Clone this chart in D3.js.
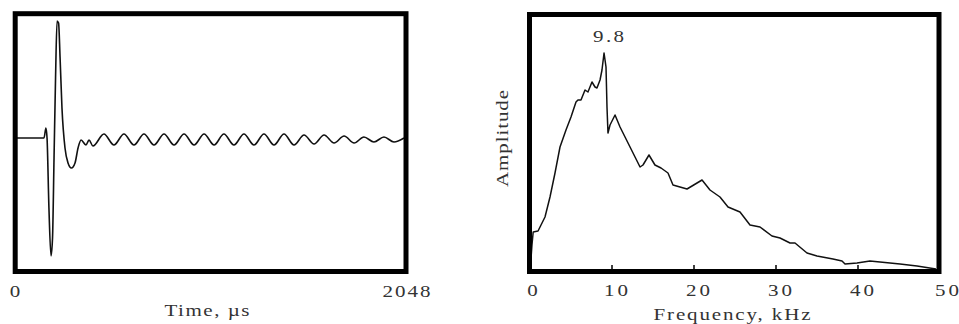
<!DOCTYPE html>
<html>
<head>
<meta charset="utf-8">
<script src="https://cdn.jsdelivr.net/npm/d3@7"></script>
<style>
  html, body { margin: 0; padding: 0; background: #fff; }
  svg { display: block; }
  text { font-family: "Liberation Serif", "Times New Roman", Times, serif; fill: #333; }
</style>
</head>
<body>
<svg id="chart" width="959" height="324"></svg>
<script>
// ---- Left panel: time waveform (arbitrary amplitude units) ----
const timeUs = [0, 143, 153, 159, 169, 180, 188, 196, 204, 212, 220, 228, 238, 254, 270, 288, 307, 323, 339, 365, 381, 402,
  460, 513, 566, 619, 672, 725, 778, 831, 884, 937, 990, 1043, 1095, 1148, 1201, 1254, 1307, 1360, 1413, 1466,
  1519, 1572, 1625, 1678, 1731, 1784, 1836, 1889, 1942, 1995, 2048];
const waveAmp = [0, 0, 10, 0, -70, -118, -100, -20, 60, 117, 115, 80, 30, -10, -25, -30, -25, -10, -2, -7, -2, -8,
  4, -7, 4, -7, 4, -7, 4, -7, 4, -7, 4, -7, 4, -7, 4, -7, 4, -7, 4, -7,
  3, -6, 3, -5, 2, -5, 1, -4, 1, -4, 0];
const timeTicks = [0, 2048];
const timeTitle = "Time, \u00b5s";

// ---- Right panel: amplitude spectrum ----
const freqKHz = [0.1, 0.3, 0.45, 1.04, 1.89, 2.5, 3.11, 3.72, 4.45, 5.06, 5.67, 5.91, 6.28, 6.77, 7.13, 7.62, 7.99, 8.23,
  8.6, 8.84, 9.09, 9.33, 9.45, 9.57, 9.82, 10.43, 11.04, 11.65, 12.26, 12.87, 13.48, 13.84, 14.57, 15.3, 16.04, 16.89,
  17.5, 18.35, 19.21, 21.04, 22.01, 23.23, 24.21, 25.67, 26.89, 28.11, 29.57, 30.55, 31.77, 32.38, 33.84, 35.06,
  37.01, 38.11, 38.48, 39.94, 41.52, 42.74, 45.18, 47.26, 49.57];
const specAmp = [2, 25, 38, 39, 53, 73, 97, 123, 140, 153, 168, 170, 170, 180, 178, 188, 183, 182,
  190, 200, 217, 203, 163, 137, 145, 155, 143, 133, 123, 113, 103, 105, 115, 105, 102, 97,
  85, 83, 81, 90, 80, 73, 63, 58, 45, 43, 34, 32, 27, 27, 17, 14,
  11, 9, 6, 7, 9, 8, 6, 4, 1];
const freqTicks = [0, 10, 20, 30, 40, 50];
const freqTitle = "Frequency, kHz";
const ampTitle = "Amplitude";
const peakLabel = "9.8";

const SX = 1.2;      // horizontal glyph widening of the scanned serif type
const FS = 17.5;
const svg = d3.select("#chart");

function label(x, y, str, width, rotate) {
  const g = svg.append("g")
    .attr("transform", `translate(${x},${y})` + (rotate ? " rotate(-90)" : "") + ` scale(${SX},1)`);
  g.append("text")
    .attr("text-anchor", "middle")
    .attr("font-size", FS)
    .attr("textLength", width / SX).attr("lengthAdjust", "spacing")
    .text(str);
}

function styleTicks(sel, yPos, dxFn) {
  sel.selectAll("text")
    .attr("y", yPos).attr("dy", 0)
    .attr("font-size", FS)
    .attr("font-family", "Liberation Serif, Times New Roman, serif")
    .attr("fill", "#333")
    .attr("x", (d, i) => dxFn(d, i) / SX)
    .attr("transform", `scale(${SX},1)`)
    .each(function() {
      const n = this.textContent.length;
      if (n > 1) d3.select(this).attr("textLength", n * 12 / SX).attr("lengthAdjust", "spacing");
    });
}

// ---------- Left panel ----------
const xL = d3.scaleLinear().domain([0, 2048]).range([17, 404]);
const yL = d3.scaleLinear().domain([-134, 122]).range([272, 16]);

svg.append("path")
  .datum(timeUs.map((t, i) => [t, waveAmp[i]]))
  .attr("fill", "none")
  .attr("stroke", "#111")
  .attr("stroke-width", 1.6)
  .attr("stroke-linejoin", "round")
  .attr("d", d3.line().x(d => xL(d[0])).y(d => yL(d[1])).curve(d3.curveMonotoneX));

svg.append("rect")
  .attr("x", 15.2).attr("y", 13.7).attr("width", 390.8).attr("height", 257.8)
  .attr("fill", "none").attr("stroke", "#000").attr("stroke-width", 5);

const axL = svg.append("g").attr("transform", "translate(0,271.5)")
  .call(d3.axisBottom(xL).tickValues(timeTicks).tickSize(0).tickFormat(d3.format("d")));
axL.select(".domain").remove();
styleTicks(axL, 25.5, (d, i) => i === 0 ? -2.5 : 2);

label(207, 315.5, timeTitle, 85, false);

// ---------- Right panel ----------
const xR = d3.scaleLinear().domain([0, 50]).range([529.5, 939.5]);
const yR = d3.scaleLinear().domain([0, 254]).range([270, 16]);

svg.append("path")
  .datum(freqKHz.map((f, i) => [f, specAmp[i]]))
  .attr("fill", "none")
  .attr("stroke", "#111")
  .attr("stroke-width", 1.5)
  .attr("stroke-linejoin", "round")
  .attr("d", d3.line().x(d => xR(d[0])).y(d => yR(d[1])));

svg.append("rect")
  .attr("x", 529.5).attr("y", 14.5).attr("width", 409.5).attr("height", 257)
  .attr("fill", "none").attr("stroke", "#000").attr("stroke-width", 5);

const axR = svg.append("g").attr("transform", "translate(0,269)")
  .call(d3.axisBottom(xR).tickValues(freqTicks).tickSizeInner(-4).tickSizeOuter(0));
axR.select(".domain").remove();
axR.selectAll("line").attr("stroke", "#000").attr("stroke-width", 1.5);
styleTicks(axR, 27, d => d === 0 ? 2.5 : d === 50 ? 7 : 4);

label(732, 320, freqTitle, 157, false);
label(508, 138.5, ampTitle, 97, true);
label(608.5, 42, peakLabel, 31, false);
</script>
</body>
</html>
